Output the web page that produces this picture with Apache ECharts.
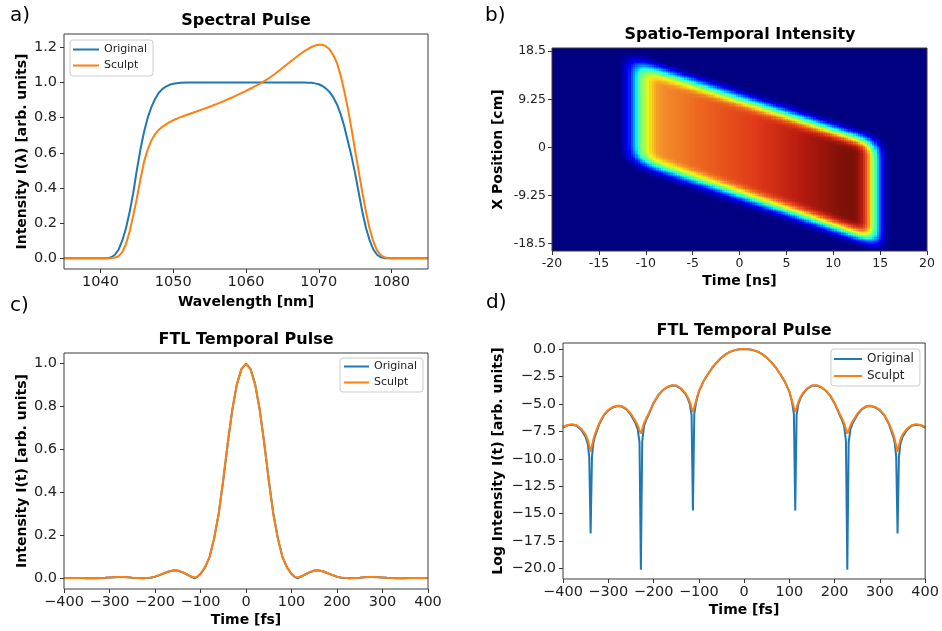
<!DOCTYPE html>
<html><head><meta charset="utf-8">
<script src="https://cdn.jsdelivr.net/npm/echarts@6/dist/echarts.min.js"></script>
<style>html,body{margin:0;padding:0;background:#fff}#chart{width:942px;height:631px}</style>
</head><body><div id="chart"></div>
<script>
// ---------- Panel a: spectral pulse ----------
const wavelengthNm = [1035,1037,1039,1040,1041,1041.5,1042,1042.5,1043,1043.5,1044,1044.5,1045,1045.5,1046,1046.5,1047,1047.5,1048,1048.5,1049,1049.5,1050,1051,1052,1053,1054,1055,1056,1057,1058,1059,1060,1061,1062,1063,1064,1065,1066,1067,1068,1068.5,1069,1069.5,1070,1070.5,1071,1071.5,1072,1072.5,1073,1073.5,1074,1074.5,1075,1075.5,1076,1076.5,1077,1077.5,1078,1078.5,1079,1079.5,1080,1082,1085];
const spectralOriginal = [0,0,0,0,0.001,0.006,0.02,0.05,0.1,0.17,0.26,0.37,0.5,0.62,0.72,0.8,0.86,0.905,0.94,0.962,0.977,0.987,0.993,0.998,1,1,1,1,1,1,1,1,1,1,1,1,1,1,1,1,1,0.999,0.998,0.995,0.99,0.98,0.965,0.945,0.915,0.875,0.82,0.75,0.665,0.58,0.48,0.37,0.26,0.17,0.1,0.05,0.02,0.006,0.001,0,0,0,0];
const spectralSculpt = [0,0,0,0,0,0.001,0.004,0.012,0.035,0.08,0.15,0.24,0.34,0.45,0.55,0.62,0.67,0.705,0.73,0.748,0.762,0.775,0.785,0.803,0.818,0.832,0.847,0.862,0.878,0.895,0.913,0.932,0.952,0.973,0.995,1.02,1.05,1.082,1.115,1.148,1.178,1.19,1.202,1.21,1.215,1.215,1.205,1.187,1.155,1.11,1.04,0.95,0.85,0.735,0.61,0.49,0.37,0.26,0.165,0.095,0.045,0.018,0.006,0.001,0,0,0];
const specTickNm = [1040,1050,1060,1070,1080];
const specTickLevel = [0,0.2,0.4,0.6,0.8,1.0,1.2];

// ---------- Panel b: spatio-temporal intensity ----------
const heatTimeNs =    [-20,-13,-12.6,-12.2,-11.7,-11.2,-10.7,-10.2,-9.7,-9.2,-8.7,-8,-4,0,4,8,10,11,12,12.5,13,13.5,14,14.5,15,15.5,16,16.5,20];
const heatTimeLevel = [0,0,0.02,0.07,0.16,0.3,0.44,0.56,0.65,0.71,0.745,0.762,0.81,0.853,0.901,0.955,0.981,0.992,0.997,0.985,0.94,0.84,0.66,0.44,0.2,0.06,0.01,0,0];
const spatialOffsetCm = [0,6.5,7,7.5,8,8.5,9,9.5,10,10.5,11,11.5,12,20];
const spatialLevel =    [1,1,0.98,0.94,0.86,0.74,0.58,0.41,0.25,0.12,0.04,0.01,0,0];
const tiltTimeNs = [-11.6,14.7];
const tiltCenterCm = [7.2,-8.8];
const heatTickPos = [-18.5,-9.25,0,9.25,18.5];

// ---------- Panels c, d: FTL temporal pulse ----------
const timeFs = [-400,-390,-380,-370,-360,-350,-345,-342,-339,-336,-333,-330,-320,-310,-300,-290,-280,-270,-260,-250,-240,-235,-231,-228,-225,-221,-215,-210,-200,-190,-180,-170,-160,-150,-140,-130,-125,-120,-116,-113,-110,-106,-100,-90,-80,-70,-60,-50,-40,-30,-20,-10,0,
 10,20,30,40,50,60,70,80,90,100,106,110,113,116,120,125,130,140,150,160,170,180,190,200,210,215,221,225,228,231,235,240,250,260,270,280,290,300,310,320,330,333,336,339,342,345,350,360,370,380,390,400];
const pulseOriginal = [0.0008,0.001,0.00105,0.00095,0.0007,0.0004,0.0002,0.00005,0,0.00005,0.0002,0.0004,0.0012,0.0025,0.0039,0.0051,0.0057,0.0055,0.0043,0.0027,0.0013,0.0007,0.0002,0,0.0002,0.0009,0.0018,0.0028,0.0072,0.0146,0.0232,0.0315,0.0366,0.0359,0.0282,0.0176,0.0121,0.0067,0.0025,0,0.0027,0.0078,0.02,0.051,0.1,0.186,0.301,0.458,0.631,0.787,0.905,0.975,1,
 0.975,0.905,0.787,0.631,0.458,0.301,0.186,0.1,0.051,0.02,0.0078,0.0027,0,0.0025,0.0067,0.0121,0.0176,0.0282,0.0359,0.0366,0.0315,0.0232,0.0146,0.0072,0.0028,0.0018,0.0009,0.0002,0,0.0002,0.0007,0.0013,0.0027,0.0043,0.0055,0.0057,0.0051,0.0039,0.0025,0.0012,0.0004,0.0002,0.00005,0,0.00005,0.0002,0.0004,0.0007,0.00095,0.00105,0.001,0.0008];
const pulseSculpt = [0.0008,0.001,0.00105,0.00095,0.0007,0.0004,0.00025,0.00015,0.0001,0.00015,0.00026,0.0004,0.0012,0.0025,0.0039,0.0051,0.0057,0.0055,0.0043,0.0027,0.0014,0.001,0.0006,0.0005,0.0007,0.0012,0.002,0.003,0.0075,0.015,0.0235,0.0318,0.0369,0.0362,0.0287,0.0183,0.0129,0.0082,0.0047,0.0033,0.005,0.009,0.021,0.052,0.1,0.186,0.301,0.458,0.631,0.787,0.905,0.975,1,
 0.975,0.905,0.787,0.631,0.458,0.301,0.186,0.1,0.052,0.021,0.009,0.005,0.0033,0.0047,0.0082,0.0129,0.0183,0.0287,0.0362,0.0369,0.0318,0.0235,0.015,0.0075,0.003,0.002,0.0012,0.0007,0.0005,0.0006,0.001,0.0014,0.0027,0.0043,0.0055,0.0057,0.0051,0.0039,0.0025,0.0012,0.0004,0.00026,0.00015,0.0001,0.00015,0.00025,0.0004,0.0007,0.00095,0.00105,0.001,0.0008];
const logOriginal = [-7.15,-6.95,-6.9,-7.0,-7.35,-8.0,-8.7,-9.9,-16.8,-9.8,-8.6,-8.05,-6.85,-6.05,-5.6,-5.32,-5.2,-5.24,-5.5,-6.0,-6.75,-7.3,-8.5,-20.1,-8.4,-7.0,-6.35,-5.9,-4.95,-4.25,-3.78,-3.48,-3.33,-3.35,-3.6,-4.08,-4.45,-5.0,-6.0,-14.7,-5.9,-4.85,-3.9,-2.97,-2.3,-1.68,-1.2,-0.78,-0.46,-0.24,-0.1,-0.025,0,
 -0.025,-0.1,-0.24,-0.46,-0.78,-1.2,-1.68,-2.3,-2.97,-3.9,-4.85,-5.9,-14.7,-6.0,-5.0,-4.45,-4.08,-3.6,-3.35,-3.33,-3.48,-3.78,-4.25,-4.95,-5.9,-6.35,-7.0,-8.4,-20.1,-8.5,-7.3,-6.75,-6.0,-5.5,-5.24,-5.2,-5.32,-5.6,-6.05,-6.85,-8.05,-8.6,-9.8,-16.8,-9.9,-8.7,-8.0,-7.35,-7.0,-6.9,-6.95,-7.15];
const logSculpt = [-7.1,-6.92,-6.86,-6.95,-7.25,-7.8,-8.3,-8.8,-9.35,-8.8,-8.25,-7.8,-6.75,-6.0,-5.55,-5.28,-5.17,-5.2,-5.45,-5.9,-6.55,-6.95,-7.4,-7.7,-7.3,-6.75,-6.2,-5.8,-4.9,-4.2,-3.75,-3.45,-3.3,-3.32,-3.55,-4.0,-4.35,-4.8,-5.35,-5.72,-5.3,-4.7,-3.85,-2.95,-2.3,-1.68,-1.2,-0.78,-0.46,-0.24,-0.1,-0.025,0,
 -0.025,-0.1,-0.24,-0.46,-0.78,-1.2,-1.68,-2.3,-2.95,-3.85,-4.7,-5.3,-5.72,-5.35,-4.8,-4.35,-4.0,-3.55,-3.32,-3.3,-3.45,-3.75,-4.2,-4.9,-5.8,-6.2,-6.75,-7.3,-7.7,-7.4,-6.95,-6.55,-5.9,-5.45,-5.2,-5.17,-5.28,-5.55,-6.0,-6.75,-7.8,-8.25,-8.8,-9.35,-8.8,-8.3,-7.8,-7.25,-6.95,-6.86,-6.92,-7.1];
const pulseTickLevel = [0,0.2,0.4,0.6,0.8,1.0];
const logTickLevel = [-20,-17.5,-15,-12.5,-10,-7.5,-5,-2.5,0];

const seriesNames = ['Original','Sculpt'];
const BLUE = '#1f77b4', ORANGE = '#ff7f0e';
const FONT = 'DejaVu Sans';
const jetColors = ['#000080','#0000c8','#0000ff','#0040ff','#0080ff','#00bfff','#15ffe2','#48ffaf','#7bff7b','#afff48','#e2ff15','#fad21a','#f3952a','#ec621e','#de3818','#b41a0e','#781008'];

function zip(xs, ys){ return xs.map((x,i)=>[x, ys[i]]); }
function interp(xs, ys, x){
  if (x <= xs[0]) return ys[0];
  const n = xs.length;
  if (x >= xs[n-1]) return ys[n-1];
  for (let i=1;i<n;i++){ if (x <= xs[i]) { const f=(x-xs[i-1])/(xs[i]-xs[i-1]); return ys[i-1]+f*(ys[i]-ys[i-1]); } }
  return ys[n-1];
}
function tiltCenter(t){ const s=(tiltCenterCm[1]-tiltCenterCm[0])/(tiltTimeNs[1]-tiltTimeNs[0]); return tiltCenterCm[0]+(t-tiltTimeNs[0])*s; }

const CELL_T = 0.25, CELL_Y = 0.25;
const heatCells = [];
for (let i=0;i<=160;i++){
  const t = -20 + i*CELL_T;
  const T = interp(heatTimeNs, heatTimeLevel, t);
  const c = tiltCenter(t);
  for (let j=0;j<157;j++){
    const y = -19.875 + j*CELL_Y;
    const S = interp(spatialOffsetCm, spatialLevel, Math.abs(y-c));
    heatCells.push([t, y, T*S]);
  }
}

const minus = v => v < 0 ? '\u2212' + (-v) : String(v);
const tickStyle = {show:true, inside:false, length:4, lineStyle:{color:'#333', width:1}};
const labelStyle = (size) => ({fontSize:size, color:'#222', fontFamily:FONT});
const nameStyle = {fontWeight:'bold', fontSize:14, fontFamily:FONT, color:'#000'};

function valueAxis(o){
  const ax = {
    type:'value', gridIndex:o.grid, min:o.min, max:o.max,
    axisLine:{show:false, onZero:false},
    axisTick: Object.assign({}, tickStyle),
    axisLabel: Object.assign({margin:o.margin||6, formatter:o.fmt}, labelStyle(o.fs||14)),
    splitLine:{show:false},
    name:o.name, nameLocation:'middle', nameGap:o.gap, nameTextStyle:nameStyle
  };
  if (o.ticks) { ax.axisTick.customValues = o.ticks; ax.axisLabel.customValues = o.ticks; }
  if (o.interval) ax.interval = o.interval;
  if (o.rot) ax.nameRotate = 90;
  return ax;
}

const lineSeries = (name, x, y, data, color) => ({
  type:'line', name, xAxisIndex:x, yAxisIndex:y, data, showSymbol:false, symbol:'none',
  lineStyle:{width:2, color}, itemStyle:{color}, silent:true, emphasis:{disabled:true}, z:3
});

const legendBox = (left, top, fs, lh, iw, gap, pad) => ({
  data:seriesNames, left, top, orient:'vertical', icon:'rect', itemWidth:iw, itemHeight:2, itemGap:gap,
  padding:pad, backgroundColor:'rgba(255,255,255,0.85)', borderColor:'#cccccc', borderWidth:1, borderRadius:3,
  textStyle:{fontSize:fs, lineHeight:lh, fontFamily:FONT, color:'#222'}, selectedMode:false
});

const titleText = (text, left, top) => ({text, left, top, textAlign:'center', padding:0,
  textStyle:{fontSize:16, fontWeight:'bold', fontFamily:FONT, color:'#000'}});
const panelLetter = (text, left, top) => ({text, left, top, padding:0,
  textStyle:{fontSize:20, fontWeight:'normal', fontFamily:FONT, color:'#000'}});

const gridStyle = {show:true, borderColor:'#3a3a3a', borderWidth:1, backgroundColor:'transparent', z:10};

const option = {
  animation:false,
  backgroundColor:'#ffffff',
  title:[
    panelLetter('a)', 10, 6), panelLetter('b)', 485, 6), panelLetter('c)', 10, 296), panelLetter('d)', 486, 293),
    titleText('Spectral Pulse', 246, 13),
    titleText('Spatio-Temporal Intensity', 740, 27),
    titleText('FTL Temporal Pulse', 246, 332),
    titleText('FTL Temporal Pulse', 744, 323)
  ],
  grid:[
    Object.assign({left:64, top:34, width:364, height:235}, gridStyle),
    Object.assign({left:552, top:48, width:375, height:203}, gridStyle),
    Object.assign({left:64, top:353, width:364, height:236}, gridStyle),
    Object.assign({left:563, top:343, width:363, height:236}, gridStyle)
  ],
  xAxis:[
    valueAxis({grid:0, min:1035, max:1085, ticks:specTickNm, fmt:v=>String(v), name:'Wavelength [nm]', gap:26, fs:14.5, margin:6}),
    valueAxis({grid:1, min:-20, max:20, interval:5, fmt:v=>String(v), name:'Time [ns]', gap:23, fs:12.5, margin:6}),
    valueAxis({grid:2, min:-400, max:400, interval:100, fmt:minus, name:'Time [fs]', gap:24, fs:14.5, margin:6}),
    valueAxis({grid:3, min:-400, max:400, interval:100, fmt:minus, name:'Time [fs]', gap:24, fs:14.5, margin:6})
  ],
  yAxis:[
    valueAxis({grid:0, min:-0.0608, max:1.2758, ticks:specTickLevel, fmt:v=>v.toFixed(1), name:'Intensity I(\u03bb) [arb. units]', gap:35, rot:true, fs:14.5, margin:7}),
    valueAxis({grid:1, min:-19.9, max:19.1, ticks:heatTickPos, fmt:v=>String(v), name:'X Position [cm]', gap:47, rot:true, fs:12.5, margin:6}),
    valueAxis({grid:2, min:-0.05, max:1.05, ticks:pulseTickLevel, fmt:v=>v.toFixed(1), name:'Intensity I(t) [arb. units]', gap:35, rot:true, fs:14.5, margin:7}),
    valueAxis({grid:3, min:-20.95, max:0.55, ticks:logTickLevel, fmt:v=>v===0?'0.0':'\u2212'+(-v).toFixed(1), name:'Log Intensity I(t) [arb. units]', gap:58, rot:true, fs:14.5, margin:7})
  ],
  legend:[
    legendBox(70, 40, 11, 13, 26, 3, [3,6,4,3]),
    legendBox(340, 358, 11, 13, 25, 3, [2,6,3,4]),
    legendBox(831, 349, 12, 14, 28, 3, [3,6,3,3])
  ],
  visualMap:{type:'continuous', show:false, min:0, max:1, dimension:2, seriesIndex:2, inRange:{color:jetColors}},
  series:[
    lineSeries('Original', 0, 0, zip(wavelengthNm, spectralOriginal), BLUE),
    lineSeries('Sculpt', 0, 0, zip(wavelengthNm, spectralSculpt), ORANGE),
    {
      type:'custom', name:'intensity', xAxisIndex:1, yAxisIndex:1, data:heatCells, silent:true, progressive:0,
      encode:{x:0, y:1},
      renderItem:function(params, api){
        const t = api.value(0), y = api.value(1);
        const a = api.coord([t - CELL_T/2, y + CELL_Y/2]);
        const b = api.coord([t + CELL_T/2, y - CELL_Y/2]);
        const cs = params.coordSys;
        const x0 = Math.round(Math.max(a[0], cs.x)), x1 = Math.round(Math.min(b[0], cs.x + cs.width));
        const y0 = Math.round(Math.max(a[1], cs.y)), y1 = Math.round(Math.min(b[1], cs.y + cs.height));
        if (x1 <= x0 || y1 <= y0) return null;
        return {type:'rect', shape:{x:x0, y:y0, width:x1-x0, height:y1-y0}, style:{fill:api.visual('color')}};
      },
      z:2
    },
    lineSeries('Original', 2, 2, zip(timeFs, pulseOriginal), BLUE),
    lineSeries('Sculpt', 2, 2, zip(timeFs, pulseSculpt), ORANGE),
    lineSeries('Original', 3, 3, zip(timeFs, logOriginal), BLUE),
    lineSeries('Sculpt', 3, 3, zip(timeFs, logSculpt), ORANGE)
  ]
};

const chart = echarts.init(document.getElementById('chart'), null, {renderer:'canvas'});
chart.setOption(option);
</script></body></html>
